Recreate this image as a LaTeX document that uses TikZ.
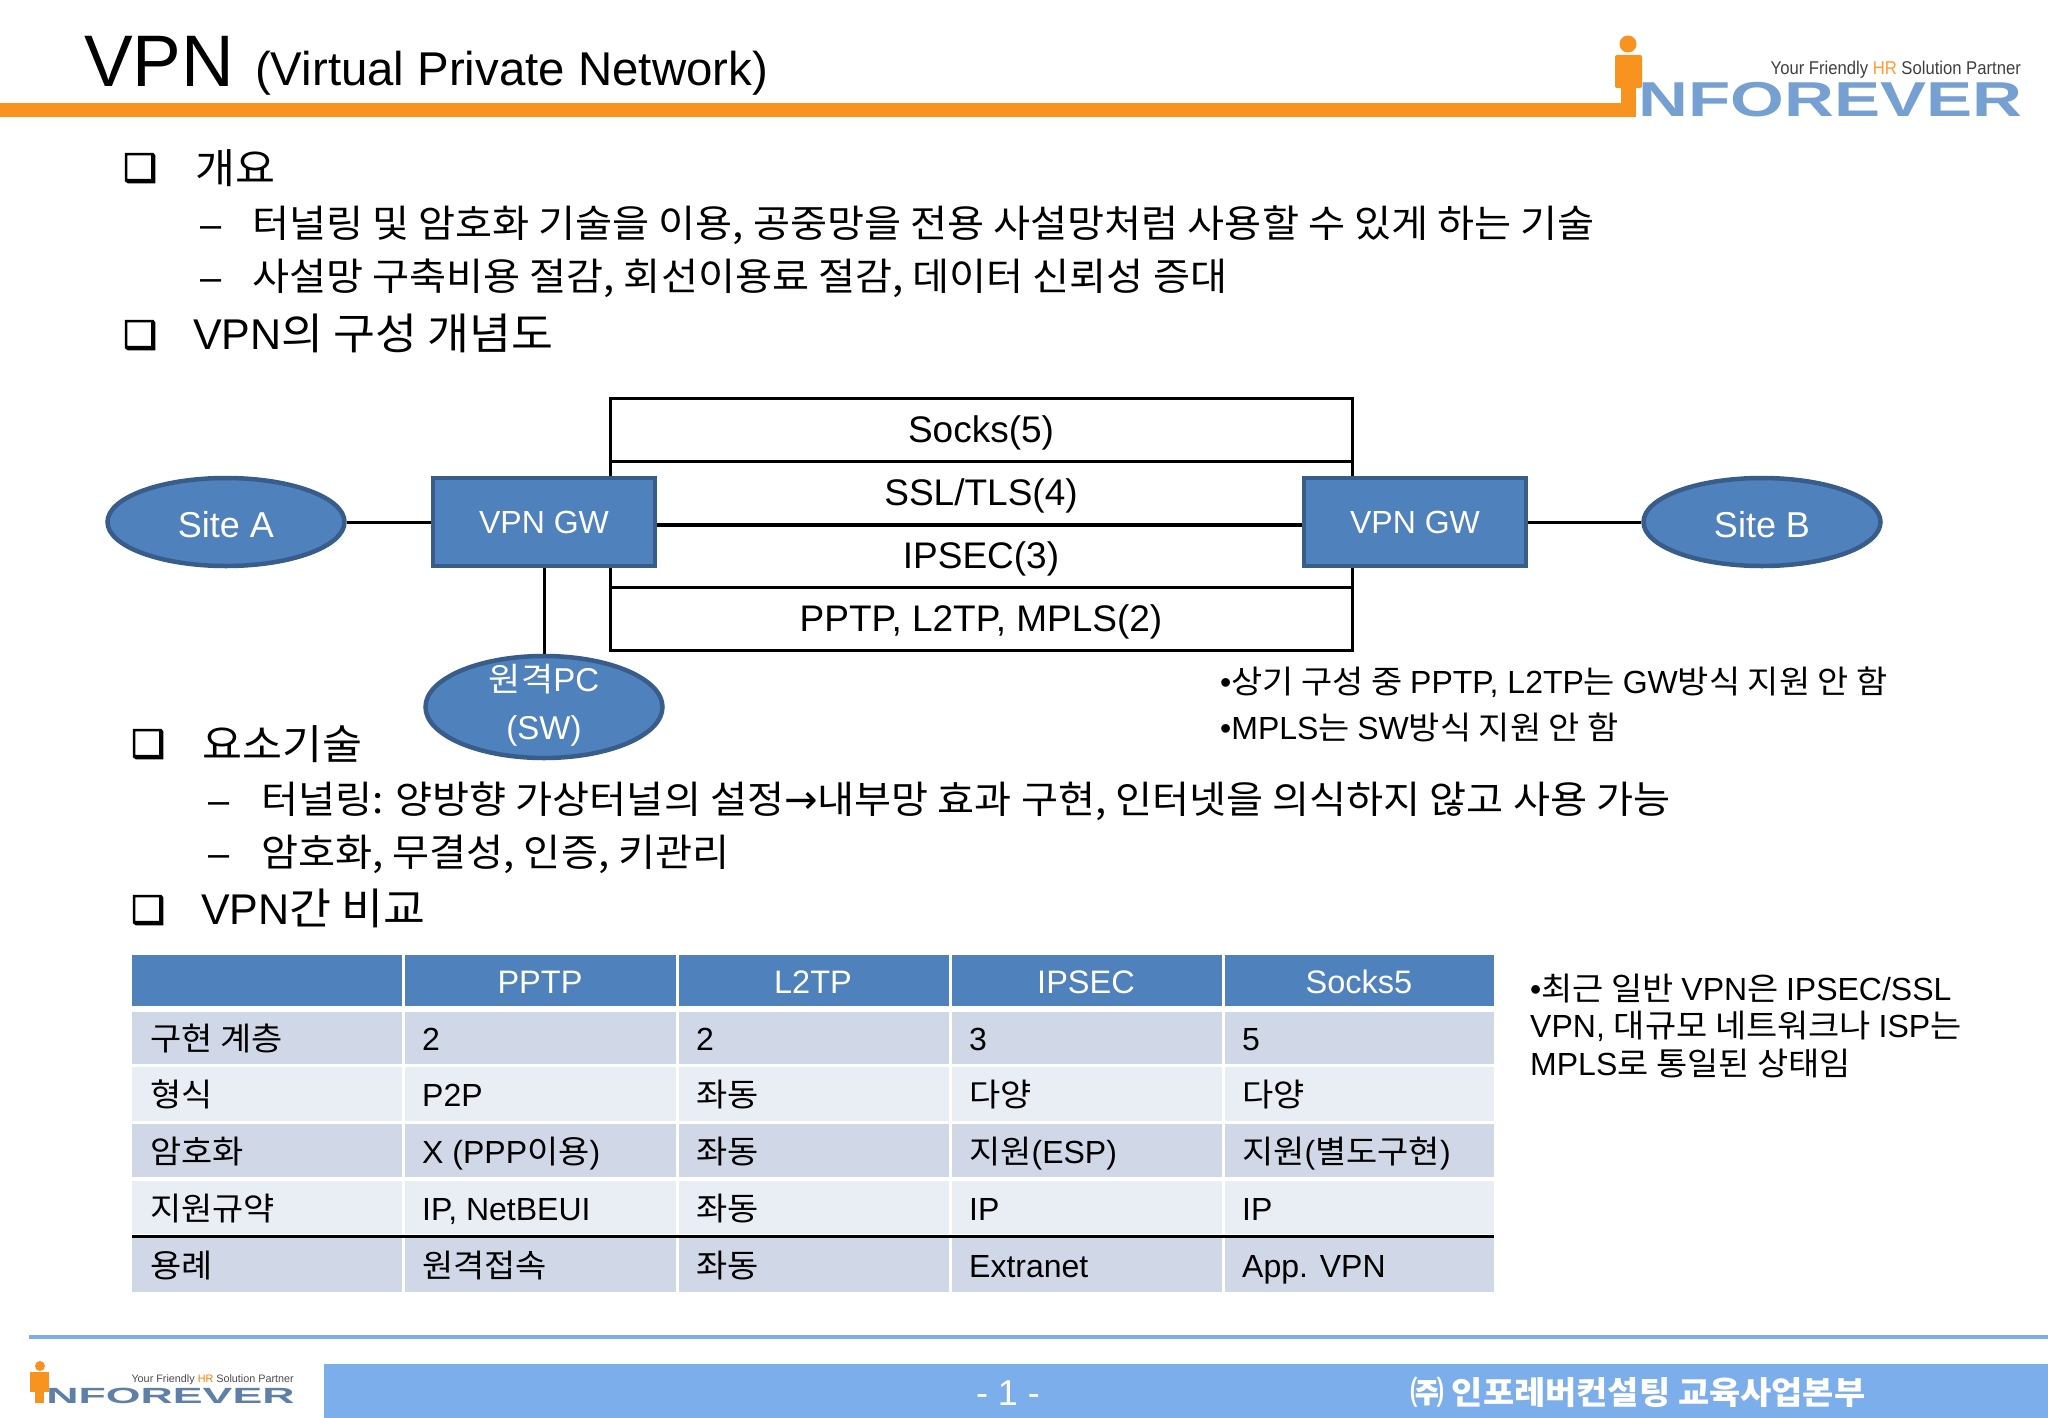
\documentclass[tikz,border=0pt]{standalone}
\usepackage{fontspec}
\usetikzlibrary{shapes.geometric}
\setmainfont{Liberation Sans}
\newfontfamily\krf[FakeStretch=1.06]{Noto Sans CJK KR}
\newfontfamily\sym{DejaVu Sans}
\newfontfamily\symb[FakeBold=2.5]{DejaVu Sans}
\newcommand{\K}[1]{{\krf #1}}
\definecolor{blueF}{HTML}{4F81BD}
\definecolor{blueB}{HTML}{385D8A}
\definecolor{rowA}{HTML}{D0D8E8}
\definecolor{rowB}{HTML}{E9EDF4}
\definecolor{footB}{HTML}{7BAEEA}
\definecolor{orangeL}{HTML}{F7931E}
\definecolor{logoB}{HTML}{76A0D2}
\tikzset{
 txt/.style={anchor=base west,inner sep=0pt,font=\fontsize{#1}{#1}\selectfont},
 txt/.default=38,
 blob/.style={ellipse,draw=blueB,line width=4.5pt,fill=blueF,text=white,inner sep=0pt,text height=30pt,text depth=0pt,font=\fontsize{36}{36}\selectfont},
 gw/.style={rectangle,draw=blueB,line width=4.5pt,fill=blueF,text=white,inner sep=0pt,minimum width=222pt,minimum height=88pt,font=\fontsize{32}{32}\selectfont},
 proto/.style={rectangle,draw=black,line width=3pt,inner sep=0pt,minimum width=742pt,minimum height=63pt,text height=26pt,text depth=0pt,font=\fontsize{37}{37}\selectfont},
 wire/.style={draw=black,line width=3pt},
 cell/.style={anchor=base west,inner sep=0pt,font=\fontsize{32}{32}\selectfont},
 head/.style={anchor=base,inner sep=0pt,text=white,font=\fontsize{32.5}{32.5}\selectfont},
 sqb/.style={anchor=base west,inner sep=0pt,font=\symb\fontsize{38}{38}\selectfont},
 plabel/.style={anchor=base,inner sep=0pt,text=white,font=\fontsize{33}{33}\selectfont},
}
\begin{document}
\begin{tikzpicture}[x=1pt,y=-1pt]
\useasboundingbox (0,0) rectangle (2048,1418);
\fill[white] (0,0) rectangle (2048,1418);
% header
\fill[orangeL] (0,103) rectangle (1636,117);
\node[txt=73] (t1) at (84,87) {VPN};
\node[txt=47.4] (t2) at (255,86) {(Virtual Private Network)};
% top logo
\fill[orangeL] (1628,44) circle (8.5);
\fill[orangeL,rounded corners=2pt] (1615,55) rectangle (1642,88);
\fill[orangeL] (1621,86) rectangle (1636,117);
\node[anchor=base west,inner sep=0pt,font=\bfseries\fontsize{49}{49}\selectfont,text=logoB,xscale=1.41,transform shape] (lg1) at (1638,117) {NFOREVER};
\node[anchor=base east,inner sep=0pt,font=\fontsize{18.5}{18.5}\selectfont,text=black!75,xscale=.9,transform shape] (lg2) at (2021,75) {Your Friendly \textcolor{orange!80}{HR} Solution Partner};
% section 1
\node[sqb] (b1) at (123,181) {❑};
\node[txt=41] (s1) at (195,183) {\K{개요}};
\node[txt=38] (d1) at (200,237) {–};
\node[txt=38] (l1) at (252,237) {\K{터널링 및 암호화 기술을 이용, 공중망을 전용 사설망처럼 사용할 수 있게 하는 기술}};
\node[txt=38] (d2) at (200,290) {–};
\node[txt=38] (l2) at (252,290) {\K{사설망 구축비용 절감, 회선이용료 절감, 데이터 신뢰성 증대}};
\node[sqb] (b2) at (123,348) {❑};
\node[txt=43] (s2) at (193,349) {VPN\K{의 구성 개념도}};
% protocol stack
\node[proto] (p5) at (981,429.5) {Socks(5)};
\node[proto] (p4) at (981,492.5) {SSL/TLS(4)};
\node[proto] (p3) at (981,555.5) {IPSEC(3)};
\node[proto] (p2) at (981,618.5) {PPTP, L2TP, MPLS(2)};
% nodes
\node[blob,minimum width=237pt,minimum height=88pt] (sa) at (226,522) {Site A};
\node[blob,minimum width=237pt,minimum height=88pt] (sb) at (1762,522) {Site B};
\node[gw] (g1) at (544,522) {VPN GW};
\node[gw] (g2) at (1415,522) {VPN GW};
\node[blob,minimum width=237pt,minimum height=102pt] (pc) at (544,707) {};
\node[plabel] (pc1) at (544,691) {\K{원격}PC};
\node[plabel] (pc2) at (544,739) {(SW)};
\draw[wire] (sa) -- (g1);
\draw[wire] (g1.east |- p4.south) -- (g2.west |- p4.south);
\draw[wire] (g2) -- (sb);
\draw[wire] (g1) -- (pc);
% notes
\node[txt=32] (n1) at (1220,693) {•\K{상기 구성 중 }PPTP, L2TP\K{는 }GW\K{방식 지원 안 함}};
\node[txt=32] (n2) at (1220,739) {•MPLS\K{는 }SW\K{방식 지원 안 함}};
% section 2
\node[sqb] (b3) at (131,757) {❑};
\node[txt=41] (s3) at (202,759) {\K{요소기술}};
\node[txt=38] (d3) at (208,813) {–};
\node[txt=38] (l3) at (261,813) {\K{터널링: 양방향 가상터널의 설정}{\sym\fontsize{40}{40}\selectfont →}\K{내부망 효과 구현, 인터넷을 의식하지 않고 사용 가능}};
\node[txt=38] (d4) at (208,866) {–};
\node[txt=38] (l4) at (261,866) {\K{암호화, 무결성, 인증, 키관리}};
\node[sqb] (b4) at (131,923) {❑};
\node[txt=43] (s4) at (201,924) {VPN\K{간 비교}};
% table fills
\foreach \xa/\xb in {132/402,405/676,679/949,952/1222,1225/1494}{
 \fill[blueF] (\xa,955) rectangle (\xb,1006);
 \fill[rowA] (\xa,1012) rectangle (\xb,1064);
 \fill[rowB] (\xa,1067) rectangle (\xb,1121);
 \fill[rowA] (\xa,1124) rectangle (\xb,1177);
 \fill[rowB] (\xa,1181) rectangle (\xb,1234);
 \fill[rowA] (\xa,1238) rectangle (\xb,1292);
}
\draw[black,line width=3pt] (132,1236) -- (1494,1236);
% table header
\node[head] (h1) at (540,993) {PPTP};
\node[head] (h2) at (813,993) {L2TP};
\node[head] (h3) at (1086,993) {IPSEC};
\node[head] (h4) at (1359,993) {Socks5};
% rows
\node[cell] (c11) at (150,1050) {\K{구현 계층}};
\node[cell] (c12) at (422,1050) {2};
\node[cell] (c13) at (696,1050) {2};
\node[cell] (c14) at (969,1050) {3};
\node[cell] (c15) at (1242,1050) {5};
\node[cell] (c21) at (150,1106) {\K{형식}};
\node[cell] (c22) at (422,1106) {P2P};
\node[cell] (c23) at (696,1106) {\K{좌동}};
\node[cell] (c24) at (969,1106) {\K{다양}};
\node[cell] (c25) at (1242,1106) {\K{다양}};
\node[cell] (c31) at (150,1163) {\K{암호화}};
\node[cell] (c32) at (422,1163) {X (PPP\K{이용})};
\node[cell] (c33) at (696,1163) {\K{좌동}};
\node[cell] (c34) at (969,1163) {\K{지원}(ESP)};
\node[cell] (c35) at (1242,1163) {\K{지원}(\K{별도구현})};
\node[cell] (c41) at (150,1220) {\K{지원규약}};
\node[cell] (c42) at (422,1220) {IP, NetBEUI};
\node[cell] (c43) at (696,1220) {\K{좌동}};
\node[cell] (c44) at (969,1220) {IP};
\node[cell] (c45) at (1242,1220) {IP};
\node[cell] (c51) at (150,1277) {\K{용례}};
\node[cell] (c52) at (422,1277) {\K{원격접속}};
\node[cell] (c53) at (696,1277) {\K{좌동}};
\node[cell] (c54) at (969,1277) {Extranet};
\node[cell] (c55) at (1242,1277) {App. VPN};
% side note
\node[txt=32] (r1) at (1530,1000) {•\K{최근 일반 }VPN\K{은 }IPSEC/SSL};
\node[txt=32] (r2) at (1530,1037) {VPN, \K{대규모 네트워크나 }ISP\K{는}};
\node[txt=32] (r3) at (1530,1075) {MPLS\K{로 통일된 상태임}};
% footer
\fill[footB] (29,1334.5) rectangle (2048,1339);
\fill[footB] (324,1364) rectangle (2048,1418);
\fill[orangeL] (40,1366) circle (5);
\fill[orangeL] (30,1372) rectangle (49,1392);
\fill[orangeL] (35,1392) rectangle (44,1403);
\node[anchor=base west,inner sep=0pt,font=\bfseries\fontsize{22}{22}\selectfont,text=logoB!80!black,xscale=2.03,transform shape] (lg3) at (46,1403) {NFOREVER};
\node[anchor=base east,inner sep=0pt,font=\fontsize{10.8}{10.8}\selectfont,text=black!70] (lg4) at (294,1382) {Your Friendly \textcolor{orange}{HR} Solution Partner};
\node[anchor=base,inner sep=0pt,text=white,font=\fontsize{36}{36}\selectfont] (pg) at (1008,1405) {- 1 -};
\node[anchor=base west,inner sep=0pt,text=white,font=\krf\bfseries\fontsize{32}{32}\selectfont] (ft) at (1410,1404) {㈜ 인포레버컨설팅 교육사업본부};
\end{tikzpicture}
\end{document}
